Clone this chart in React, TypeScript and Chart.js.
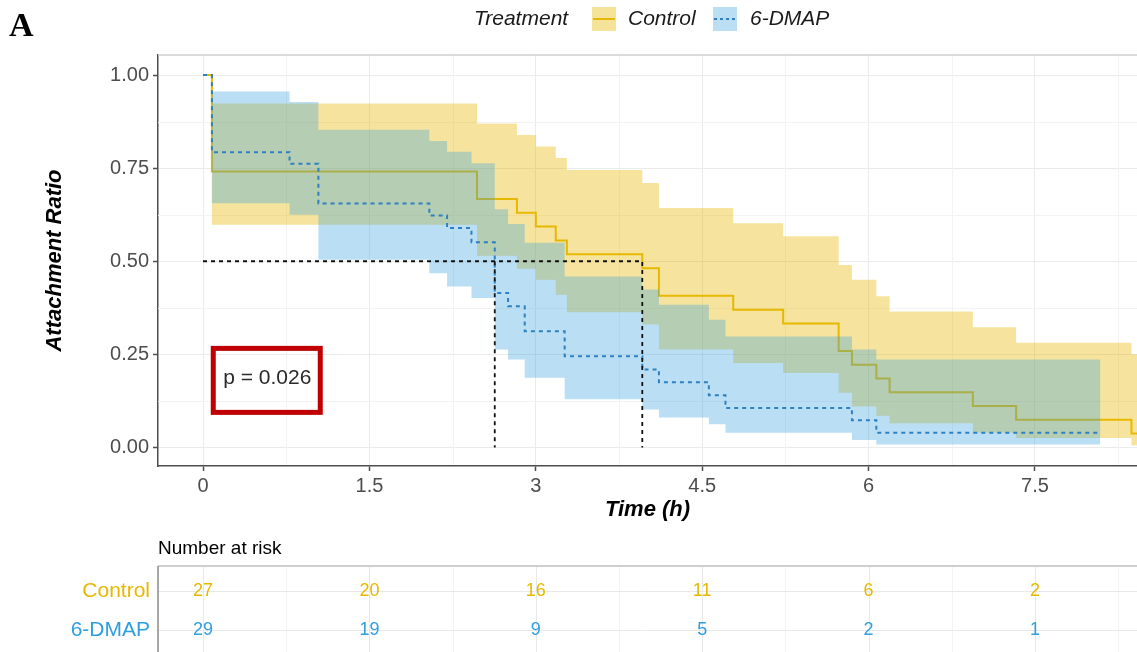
import React, { useEffect, useRef } from "react";
import { Chart, registerables } from "chart.js";

Chart.register(...registerables);

// ---------- data ----------
const groupNames = ["Control", "6-DMAP"];
const groupColors = ["#E7B800", "#2E9FDF"];

// Control (Kaplan-Meier step values)
const ctrlTime = [0, 0.08, 2.47, 2.83, 3.0, 3.18, 3.28, 3.96, 4.11, 4.78, 5.23, 5.73, 5.85, 6.07, 6.19, 6.94, 7.33, 8.37, 8.6];
const ctrlSurv = [1, 0.741, 0.667, 0.63, 0.593, 0.556, 0.519, 0.481, 0.407, 0.37, 0.333, 0.259, 0.222, 0.185, 0.148, 0.111, 0.074, 0.037, 0.037];
const ctrlUpper = [1, 0.924, 0.87, 0.839, 0.808, 0.777, 0.745, 0.71, 0.643, 0.602, 0.567, 0.49, 0.45, 0.406, 0.365, 0.323, 0.281, 0.25, 0.25];
const ctrlLower = [1, 0.598, 0.515, 0.48, 0.45, 0.41, 0.363, 0.33, 0.263, 0.227, 0.2, 0.147, 0.11, 0.085, 0.065, 0.04, 0.025, 0.005, 0.005];

// 6-DMAP
const dmapTime = [0, 0.08, 0.78, 1.04, 2.04, 2.2, 2.42, 2.63, 2.75, 2.9, 3.26, 3.96, 4.11, 4.56, 4.71, 5.85, 6.07, 8.09];
const dmapSurv = [1, 0.793, 0.762, 0.655, 0.623, 0.589, 0.551, 0.415, 0.379, 0.312, 0.245, 0.209, 0.175, 0.14, 0.106, 0.073, 0.039, 0.039];
const dmapUpper = [1, 0.956, 0.928, 0.853, 0.823, 0.794, 0.763, 0.64, 0.6, 0.55, 0.459, 0.424, 0.383, 0.343, 0.298, 0.263, 0.236, 0.236];
const dmapLower = [1, 0.656, 0.625, 0.504, 0.468, 0.432, 0.401, 0.263, 0.236, 0.187, 0.129, 0.102, 0.08, 0.062, 0.039, 0.02, 0.008, 0.008];

// median survival times (dmap, control) at level 0.5
const medianTimes = [2.63, 3.96];
const medianLevel = 0.5;

const xTicks = [0, 1.5, 3, 4.5, 6, 7.5];
const xTickLabels = ["0", "1.5", "3", "4.5", "6", "7.5"];
const xMinorTicks = [0.75, 2.25, 3.75, 5.25, 6.75, 8.25];
const yTicks = [0, 0.25, 0.5, 0.75, 1];
const yTickLabels = ["0.00", "0.25", "0.50", "0.75", "1.00"];
const yMinorTicks = [0.125, 0.375, 0.625, 0.875];

const riskTimes = [0, 1.5, 3, 4.5, 6, 7.5];
const ctrlRisk = [27, 20, 16, 11, 6, 2];
const dmapRisk = [29, 19, 9, 5, 2, 1];

const pValueText = "p = 0.026";
const pValueAt = { x: 0.57, y: 0.18 };

const legendTitle = "Treatment";
const xTitle = "Time (h)";
const yTitle = "Attachment Ratio";
const panelLabel = "A";
const riskTitle = "Number at risk";

// ---------- helpers ----------
const FONT = "'Liberation Sans', Arial, sans-serif";
const toPts = (xs: number[], ys: number[]) => xs.map((x, i) => ({ x, y: ys[i] }));

const W = 1137;
const H = 652;

const decorPlugin = {
  id: "decor",
  beforeDatasetsDraw(chart: any) {
    const { ctx, chartArea: ca, scales } = chart;
    const x = scales.x;
    const y = scales.y;
    ctx.save();
    ctx.strokeStyle = "#f3f3f3";
    ctx.lineWidth = 1;
    xMinorTicks.forEach((v) => {
      const px = Math.round(x.getPixelForValue(v)) + 0.5;
      if (px < ca.left || px > ca.right) return;
      ctx.beginPath();
      ctx.moveTo(px, ca.top);
      ctx.lineTo(px, ca.bottom - 1);
      ctx.stroke();
    });
    yMinorTicks.forEach((v) => {
      const py = Math.round(y.getPixelForValue(v)) + 0.5;
      ctx.beginPath();
      ctx.moveTo(ca.left, py);
      ctx.lineTo(ca.right, py);
      ctx.stroke();
    });
    ctx.restore();
  },
  afterDraw(chart: any) {
    const { ctx, chartArea: ca, scales } = chart;
    const x = scales.x;
    const y = scales.y;
    ctx.save();

    // top border of the panel
    ctx.strokeStyle = "#cfcfcf";
    ctx.lineWidth = 1.5;
    ctx.beginPath();
    ctx.moveTo(ca.left, ca.top);
    ctx.lineTo(ca.right, ca.top);
    ctx.stroke();

    // panel letter
    ctx.fillStyle = "#000";
    ctx.font = "bold 34px 'Liberation Serif', 'Times New Roman', serif";
    ctx.textAlign = "left";
    ctx.textBaseline = "alphabetic";
    ctx.fillText(panelLabel, 9, 36);

    // legend
    const ly = 19;
    ctx.font = `italic 21px ${FONT}`;
    ctx.textBaseline = "middle";
    ctx.fillStyle = "#1a1a1a";
    ctx.fillText(legendTitle, 474, ly);
    const keys = [
      { x0: 592, label: 628, fill: "rgba(231,184,0,0.4)", line: "#E7B800", dash: [] as number[] },
      { x0: 713, label: 750, fill: "rgba(46,159,223,0.33)", line: "#2F80C0", dash: [3, 3] },
    ];
    keys.forEach((k, i) => {
      ctx.fillStyle = k.fill;
      ctx.fillRect(k.x0, ly - 12, 24, 24);
      ctx.strokeStyle = k.line;
      ctx.lineWidth = 2;
      ctx.setLineDash(k.dash);
      ctx.beginPath();
      ctx.moveTo(k.x0 + 1, ly);
      ctx.lineTo(k.x0 + 23, ly);
      ctx.stroke();
      ctx.setLineDash([]);
      ctx.fillStyle = "#1a1a1a";
      ctx.fillText(groupNames[i], k.label, ly);
    });

    // axis titles
    ctx.fillStyle = "#000";
    ctx.font = `italic bold 22px ${FONT}`;
    ctx.textAlign = "center";
    ctx.textBaseline = "middle";
    ctx.fillText(xTitle, (ca.left + ca.right) / 2, 510);
    ctx.save();
    ctx.translate(55, (ca.top + ca.bottom) / 2);
    ctx.rotate(-Math.PI / 2);
    ctx.fillText(yTitle, 0, 0);
    ctx.restore();

    // p-value box
    const pcx = x.getPixelForValue(pValueAt.x);
    const pcy = y.getPixelForValue(pValueAt.y);
    ctx.strokeStyle = "#c00000";
    ctx.lineWidth = 5;
    ctx.strokeRect(pcx - 53, pcy - 32, 107, 64);
    ctx.fillStyle = "#2a2a2a";
    ctx.font = `21px ${FONT}`;
    ctx.textAlign = "center";
    ctx.fillText(pValueText, pcx + 1, pcy - 2);

    // risk table
    const tTop = 566;
    const rowY = [591, 630];
    ctx.fillStyle = "#000";
    ctx.font = `19px ${FONT}`;
    ctx.textAlign = "left";
    ctx.textBaseline = "middle";
    ctx.fillText(riskTitle, ca.left, 549);

    // table grid
    ctx.lineWidth = 1;
    ctx.strokeStyle = "#f3f3f3";
    xMinorTicks.forEach((v) => {
      const px = Math.round(x.getPixelForValue(v)) + 0.5;
      ctx.beginPath();
      ctx.moveTo(px, tTop);
      ctx.lineTo(px, H);
      ctx.stroke();
    });
    ctx.strokeStyle = "#e8e8e8";
    riskTimes.forEach((v) => {
      const px = Math.round(x.getPixelForValue(v)) + 0.5;
      ctx.beginPath();
      ctx.moveTo(px, tTop);
      ctx.lineTo(px, H);
      ctx.stroke();
    });
    rowY.forEach((ry) => {
      ctx.beginPath();
      ctx.moveTo(ca.left, ry + 0.5);
      ctx.lineTo(ca.right, ry + 0.5);
      ctx.stroke();
    });
    ctx.strokeStyle = "#cfcfcf";
    ctx.lineWidth = 2;
    ctx.beginPath();
    ctx.moveTo(ca.left, tTop);
    ctx.lineTo(ca.right, tTop);
    ctx.stroke();
    ctx.strokeStyle = "#8a8a8a";
    ctx.lineWidth = 1.5;
    ctx.beginPath();
    ctx.moveTo(ca.left, tTop);
    ctx.lineTo(ca.left, H);
    ctx.stroke();

    // row labels
    ctx.font = `21px ${FONT}`;
    ctx.textAlign = "right";
    [ctrlRisk, dmapRisk].forEach((_row, r) => {
      ctx.fillStyle = groupColors[r];
      ctx.fillText(groupNames[r], ca.left - 8, rowY[r]);
    });
    ctx.font = `18px ${FONT}`;
    ctx.textAlign = "center";
    [ctrlRisk, dmapRisk].forEach((row, r) => {
      ctx.fillStyle = groupColors[r];
      row.forEach((n, i) => {
        ctx.fillText(String(n), x.getPixelForValue(riskTimes[i]), rowY[r]);
      });
    });

    ctx.restore();
  },
};

export default function App() {
  const canvasRef = useRef<HTMLCanvasElement | null>(null);

  useEffect(() => {
    const canvas = canvasRef.current;
    if (!canvas) return;

    const medianData: any[] = [
      { x: 0, y: medianLevel },
      { x: medianTimes[1], y: medianLevel },
      { x: medianTimes[1], y: 0 },
      { x: medianTimes[1], y: null },
      { x: medianTimes[0], y: medianLevel },
      { x: medianTimes[0], y: 0 },
    ];

    const band = (data: any, color: string, fillTarget: number | false, order: number) => ({
      data,
      borderWidth: 0,
      borderColor: "rgba(0,0,0,0)",
      backgroundColor: color,
      pointRadius: 0,
      stepped: true,
      fill: fillTarget,
      order,
    });

    const chart = new Chart(canvas, {
      type: "line",
      data: {
        datasets: [
          {
            label: groupNames[1],
            data: toPts(dmapTime, dmapSurv),
            borderColor: "#2F80C0",
            borderWidth: 2,
            borderDash: [4, 4],
            pointRadius: 0,
            stepped: true,
            fill: false,
            order: 0,
          },
          band(toPts(dmapTime, dmapUpper), "rgba(46,159,223,0.33)", 2, 1),
          band(toPts(dmapTime, dmapLower), "rgba(46,159,223,0.33)", false, 1),
          {
            label: groupNames[0],
            data: toPts(ctrlTime, ctrlSurv),
            borderColor: "#E7B800",
            borderWidth: 2,
            pointRadius: 0,
            stepped: true,
            fill: false,
            order: 2,
          },
          band(toPts(ctrlTime, ctrlUpper), "rgba(231,184,0,0.38)", 5, 3),
          band(toPts(ctrlTime, ctrlLower), "rgba(231,184,0,0.38)", false, 3),
          {
            label: "median",
            data: medianData,
            borderColor: "#111",
            borderWidth: 1.8,
            borderDash: [4, 4],
            pointRadius: 0,
            fill: false,
            spanGaps: false,
            order: -1,
          },
        ] as any,
      },
      options: {
        animation: false,
        responsive: false,
        devicePixelRatio: 1,
        layout: { padding: { top: 55, right: 0, bottom: 0, left: 0 } },
        plugins: {
          legend: { display: false },
          tooltip: { enabled: false },
          filler: { drawTime: "beforeDatasetDraw" },
        } as any,
        scales: {
          x: {
            type: "linear",
            min: -0.406,
            max: 8.42,
            afterFit: (s: any) => {
              s.height = 186;
            },
            afterBuildTicks: (s: any) => {
              s.ticks = xTicks.map((v) => ({ value: v }));
            },
            ticks: {
              autoSkip: false,
              maxRotation: 0,
              padding: 3,
              color: "#4d4d4d",
              font: { family: FONT, size: 20 },
              callback: (_v: any, i: number) => xTickLabels[i],
            },
            grid: { color: "#ebebeb", lineWidth: 1, tickLength: 5, tickColor: "#4d4d4d", tickWidth: 1.5 },
            border: { display: true, color: "#4d4d4d", width: 1.5 },
          },
          y: {
            type: "linear",
            min: -0.05,
            max: 1.054,
            afterFit: (s: any) => {
              s.width = 158;
            },
            afterBuildTicks: (s: any) => {
              s.ticks = yTicks.map((v) => ({ value: v }));
            },
            ticks: {
              autoSkip: false,
              padding: 4,
              color: "#4d4d4d",
              font: { family: FONT, size: 20 },
              callback: (_v: any, i: number) => yTickLabels[i],
            },
            grid: { color: "#ebebeb", lineWidth: 1, tickLength: 5, tickColor: "#4d4d4d", tickWidth: 1.5 },
            border: { display: true, color: "#4d4d4d", width: 1.5 },
          },
        },
      } as any,
      plugins: [decorPlugin],
    });

    return () => chart.destroy();
  }, []);

  return (
    <div style={{ position: "fixed", left: 0, top: 0, width: W, height: H, background: "#fff" }}>
      <canvas ref={canvasRef} width={W} height={H} style={{ display: "block" }} />
    </div>
  );
}
